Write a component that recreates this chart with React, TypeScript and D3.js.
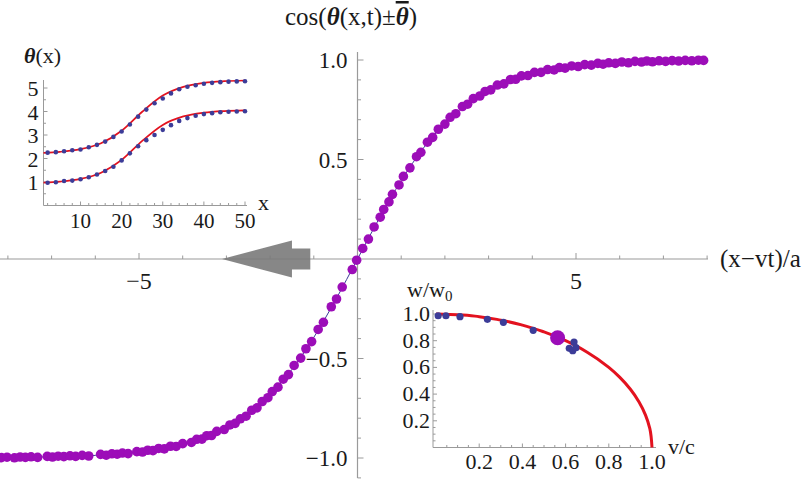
import React from "react";
import * as d3 from "d3";

// ---------- main panel data ----------
const dotX = [-8.15,-8.02,-7.85,-7.72,-7.6,-7.47,-7.32,-7.1,-6.98,-6.85,-6.72,-6.58,-6.45,-6.3,-6.15,-5.88,-5.75,-5.62,-5.5,-5.38,-5.25,-5.05,-4.92,-4.8,-4.68,-4.55,-4.42,-4.28,-4.15,-4.0,-3.8,-3.68,-3.56,-3.45,-3.34,-3.22,-3.05,-2.92,-2.8,-2.68,-2.55,-2.42,-2.3,-2.18,-2.05,-1.95,-1.82,-1.7,-1.58,-1.45,-1.3,-1.18,-1.05,-0.9,-0.78,-0.6,-0.48,-0.35,-0.12,-0.02,0.12,0.25,0.38,0.52,0.6,0.72,0.8,0.95,1.05,1.2,1.35,1.45,1.6,1.72,1.85,2.0,2.12,2.25,2.4,2.52,2.65,2.8,2.92,3.05,3.2,3.35,3.5,3.62,3.75,3.9,4.05,4.2,4.35,4.5,4.62,4.75,4.9,5.05,5.2,5.35,5.5,5.62,5.75,5.9,6.05,6.2,6.35,6.5,6.62,6.75,6.9,7.05,7.2,7.35,7.5,7.65,7.8,7.92];
const dotY = [-0.998,-0.996,-0.999,-0.995,-0.997,-0.994,-0.997,-0.992,-0.995,-0.991,-0.993,-0.989,-0.992,-0.987,-0.99,-0.982,-0.986,-0.979,-0.981,-0.975,-0.978,-0.968,-0.97,-0.961,-0.963,-0.952,-0.954,-0.941,-0.942,-0.928,-0.922,-0.906,-0.905,-0.888,-0.887,-0.866,-0.857,-0.834,-0.826,-0.803,-0.79,-0.76,-0.748,-0.716,-0.697,-0.666,-0.644,-0.604,-0.581,-0.535,-0.498,-0.451,-0.415,-0.354,-0.318,-0.24,-0.201,-0.141,-0.053,-0.006,0.053,0.1,0.161,0.21,0.249,0.287,0.325,0.372,0.415,0.458,0.514,0.536,0.587,0.611,0.652,0.678,0.712,0.73,0.766,0.778,0.806,0.819,0.842,0.85,0.874,0.88,0.902,0.903,0.92,0.922,0.938,0.938,0.952,0.95,0.962,0.959,0.97,0.967,0.977,0.974,0.983,0.979,0.986,0.983,0.99,0.986,0.993,0.99,0.995,0.991,0.996,0.993,0.997,0.995,0.998,0.996,0.999,0.998];
const fitX = [-8.2,-7,-6,-5,-4,-3,-2.5,-2,-1.5,-1,-0.5,0,0.5,1,1.5,2,2.5,3,4,5,6,7,8];
const fitY = [-0.998,-0.994,-0.987,-0.969,-0.931,-0.848,-0.779,-0.682,-0.555,-0.394,-0.205,0,0.205,0.394,0.555,0.682,0.779,0.848,0.931,0.969,0.987,0.994,0.997];
const mainXTickLabels = [-5, 5];
const mainYTickLabels = [1.0, 0.5, -0.5, -1.0];

// ---------- top-left inset data ----------
const thetaDotX = [2,4,6,8,10,12,14,16,18,20,22,24,26,28,30,32,34,36,38,40,42,44,46,48,50];
const upperDots = [2.25,2.27,2.31,2.35,2.38,2.48,2.58,2.72,2.92,3.15,3.45,3.78,4.08,4.35,4.55,4.77,4.95,5.05,5.12,5.18,5.22,5.25,5.27,5.28,5.29];
const lowerDots = [0.97,0.99,1.04,1.06,1.12,1.2,1.32,1.47,1.65,1.92,2.22,2.52,2.78,3.0,3.22,3.42,3.6,3.72,3.82,3.89,3.93,3.97,3.99,4.0,4.01];
const thetaCurveX = [1,5,10,15,20,25,30,35,40,45,50];
const upperCurve = [2.243,2.284,2.396,2.65,3.18,3.99,4.68,5.05,5.22,5.29,5.32];
const lowerCurve = [0.974,1.017,1.131,1.396,1.94,2.75,3.43,3.79,3.95,4.02,4.05];
const thetaXTicks = [10,20,30,40,50];
const thetaYTicks = [1,2,3,4,5];

// ---------- bottom-right inset data ----------
const velX = [0.01,0.046,0.111,0.238,0.312,0.45,0.617,0.639,0.633,0.648];
const widthY = [0.987,0.987,0.98,0.96,0.938,0.878,0.743,0.79,0.725,0.748];
const highlightV = [0.563];
const highlightW = [0.822];
const lorentzV = [0,0.1,0.2,0.3,0.4,0.5,0.6,0.7,0.8,0.85,0.9,0.94,0.97,0.99,1.0];
const lorentzW = [1,0.995,0.98,0.954,0.917,0.866,0.8,0.714,0.6,0.527,0.436,0.341,0.243,0.141,0];
const velTicks = [0.2,0.4,0.6,0.8,1.0];
const widthTicks = [0.2,0.4,0.6,0.8,1.0];

// arrow (data units of main panel)
const arrowShape = [[-3.1,0],[-1.5,0.093],[-1.5,0.053],[-1.08,0.053],[-1.08,-0.053],[-1.5,-0.053],[-1.5,-0.093]];

const FONT = "'Liberation Serif', 'DejaVu Serif', serif";
const PURPLE = "#9c0db8";
const BLUE = "#3c3c98";
const RED = "#e3121f";
const AXIS = "#9a9a9a";
const INK = "#1a1a1a";

const fmt1 = (v: number) => (v < 0 ? "\u2212" : "") + Math.abs(v).toFixed(1);
const fmtInt = (v: number) => (v < 0 ? "\u2212" : "") + Math.abs(v).toString();

export default function App() {
  const x = d3.scaleLinear().domain([-8, 8]).range([357.5 - 8 * 43.7, 357.5 + 8 * 43.7]);
  const y = d3.scaleLinear().domain([-1, 1]).range([458, 60]);

  const ix = d3.scaleLinear().domain([0, 50]).range([39.4, 245]);
  const iy = d3.scaleLinear().domain([0, 5]).range([205.5, 88]);

  const bx = d3.scaleLinear().domain([0, 1]).range([436, 652]);
  const by = d3.scaleLinear().domain([0, 1]).range([447.5, 314]);

  const fitLine = d3.line<number>().x((_, i) => x(fitX[i])).y((d) => y(d)).curve(d3.curveMonotoneX);
  const upLine = d3.line<number>().x((_, i) => ix(thetaCurveX[i])).y((d) => iy(d)).curve(d3.curveMonotoneX);
  const loLine = d3.line<number>().x((_, i) => ix(thetaCurveX[i])).y((d) => iy(d)).curve(d3.curveMonotoneX);
  const lzLine = d3.line<number>().x((_, i) => bx(lorentzV[i])).y((d) => by(d)).curve(d3.curveMonotoneY);

  const mainXTicks = d3.range(-8, 9, 1).filter((v) => v !== 0);
  const mainYTicks = d3.range(-11, 11, 1).map((v) => v / 10).filter((v) => Math.abs(v) > 1e-9);

  const thetaMinorX = d3.range(2, 51, 2);
  const thetaMinorY = d3.range(0.5, 5.3, 0.5);
  const velMinor = d3.range(0.05, 1.01, 0.05);
  const widthMinor = d3.range(0.05, 1.01, 0.05);

  const isMult = (v: number, m: number) => Math.abs(v / m - Math.round(v / m)) < 1e-6;

  const arrowPath = d3.line<number[]>().x((d) => x(d[0])).y((d) => y(d[1]))(arrowShape) + "Z";

  return (
    <svg width={810} height={480} style={{ position: "absolute", left: 0, top: 0, background: "#fff" }} fontFamily={FONT}>
      {/* main axes */}
      <line x1={0} x2={708} y1={y(0)} y2={y(0)} stroke={AXIS} strokeWidth={1.2} />
      <line x1={x(0)} x2={x(0)} y1={52} y2={478} stroke={AXIS} strokeWidth={1.2} />
      {mainXTicks.map((v) => (
        <line key={"mx" + v} x1={x(v)} x2={x(v)} y1={y(0)} y2={y(0) - (v % 5 === 0 ? 6 : 3.5)} stroke={AXIS} />
      ))}
      {mainYTicks.map((v) => (
        <line key={"my" + v} x1={x(0)} x2={x(0) + (isMult(v, 0.5) ? 6 : 3.5)} y1={y(v)} y2={y(v)} stroke={AXIS} />
      ))}
      {mainXTickLabels.map((v) => (
        <text key={"mxl" + v} x={x(v)} y={y(0) + 30} fontSize={24} textAnchor="middle" fill={INK}>{fmtInt(v)}</text>
      ))}
      {mainYTickLabels.map((v) => (
        <text key={"myl" + v} x={x(0) - 10} y={y(v) + 8} fontSize={23} textAnchor="end" fill={INK}>{fmt1(v)}</text>
      ))}
      <text x={720} y={y(0) + 8} fontSize={25} fill={INK}>(x{"\u2212"}vt)/a</text>
      <text x={351} y={25} fontSize={25} textAnchor="middle" fill={INK}>
        cos(<tspan fontStyle="italic" fontWeight="bold">θ</tspan>(x,t)±<tspan fontStyle="italic" fontWeight="bold" textDecoration="overline">θ</tspan>)
      </text>

      {/* fit line and data */}
      <path d={fitLine(fitY) || ""} fill="none" stroke={BLUE} strokeWidth={1} />
      {dotX.map((v, i) => (
        <circle key={"d" + i} cx={x(v)} cy={y(dotY[i])} r={4.8} fill={PURPLE} />
      ))}

      {/* arrow */}
      <path d={arrowPath} fill="#7a7a7a" fillOpacity={0.9} />

      {/* top-left inset */}
      <line x1={ix(1)} x2={ix(1)} y1={80} y2={iy(0)} stroke={AXIS} />
      <line x1={ix(1)} x2={247} y1={iy(0)} y2={iy(0)} stroke={AXIS} />
      {thetaMinorX.map((v) => (
        <line key={"tmx" + v} x1={ix(v)} x2={ix(v)} y1={iy(0)} y2={iy(0) - (v % 10 === 0 ? 4 : 2.5)} stroke={AXIS} />
      ))}
      {thetaMinorY.map((v) => (
        <line key={"tmy" + v} x1={ix(1)} x2={ix(1) + (isMult(v, 1) ? 4 : 2.5)} y1={iy(v)} y2={iy(v)} stroke={AXIS} />
      ))}
      {thetaXTicks.map((v) => (
        <text key={"txl" + v} x={ix(v)} y={iy(0) + 22} fontSize={21} textAnchor="middle" fill={INK}>{v}</text>
      ))}
      {thetaYTicks.map((v) => (
        <text key={"tyl" + v} x={ix(1) - 5} y={iy(v) + 8} fontSize={22} textAnchor="end" fill={INK}>{v}</text>
      ))}
      <text x={258} y={iy(0) + 4} fontSize={22} fill={INK}>x</text>
      <text x={24} y={63} fontSize={22} fill={INK}>
        <tspan fontStyle="italic" fontWeight="bold">θ</tspan>(x)
      </text>
      <path d={upLine(upperCurve) || ""} fill="none" stroke={RED} strokeWidth={1.7} />
      <path d={loLine(lowerCurve) || ""} fill="none" stroke={RED} strokeWidth={1.7} />
      {thetaDotX.map((v, i) => (
        <circle key={"u" + i} cx={ix(v)} cy={iy(upperDots[i])} r={2.3} fill={BLUE} />
      ))}
      {thetaDotX.map((v, i) => (
        <circle key={"l" + i} cx={ix(v)} cy={iy(lowerDots[i])} r={2.3} fill={BLUE} />
      ))}

      {/* bottom-right inset */}
      <line x1={433} x2={433} y1={310} y2={by(0)} stroke={AXIS} />
      <line x1={433} x2={656} y1={by(0)} y2={by(0)} stroke={AXIS} />
      {velMinor.map((v) => (
        <line key={"vm" + v} x1={bx(v)} x2={bx(v)} y1={by(0)} y2={by(0) - (isMult(v, 0.2) ? 4 : 2.5)} stroke={AXIS} />
      ))}
      {widthMinor.map((v) => (
        <line key={"wm" + v} x1={433} x2={433 + (isMult(v, 0.2) ? 4 : 2.5)} y1={by(v)} y2={by(v)} stroke={AXIS} />
      ))}
      {velTicks.map((v) => (
        <text key={"vl" + v} x={bx(v)} y={by(0) + 21} fontSize={22} textAnchor="middle" fill={INK}>{v.toFixed(1)}</text>
      ))}
      {widthTicks.map((v) => (
        <text key={"wl" + v} x={430} y={by(v) + 7} fontSize={22} textAnchor="end" fill={INK}>{v.toFixed(1)}</text>
      ))}
      <text x={668} y={by(0) + 6} fontSize={22} fill={INK}>v/c</text>
      <text x={407} y={297} fontSize={22} fill={INK}>
        w/w<tspan fontSize={15} dy={4}>0</tspan>
      </text>
      <path d={lzLine(lorentzW) || ""} fill="none" stroke={RED} strokeWidth={3} />
      {velX.map((v, i) => (
        <circle key={"v" + i} cx={bx(v)} cy={by(widthY[i])} r={3.6} fill={BLUE} />
      ))}
      {highlightV.map((v, i) => (
        <circle key={"h" + i} cx={bx(v)} cy={by(highlightW[i])} r={7.5} fill={PURPLE} />
      ))}
    </svg>
  );
}
